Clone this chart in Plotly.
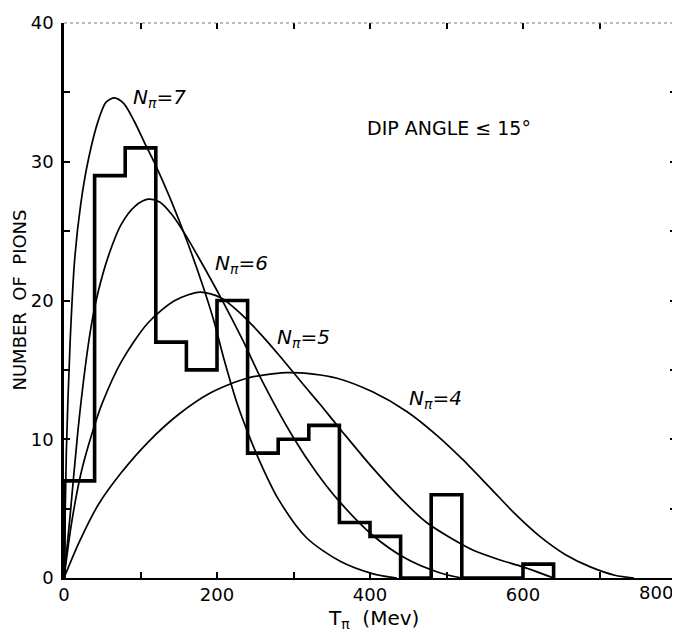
import plotly.graph_objects as go

# Histogram (40 MeV bins)
bin_left = [0, 40, 80, 120, 160, 200, 240, 280, 320, 360, 400, 440, 480, 520, 560, 600]
counts   = [7, 29, 31, 17, 15, 20, 9, 10, 11, 4, 3, 0, 6, 0, 0, 1]
bin_width = 40

# Theoretical curves (T in MeV, number of pions)
t7 = [0, 3, 8, 14, 22, 32, 45, 55, 66, 78, 92, 105, 121, 140, 160, 180, 195, 210, 225, 243, 260, 280, 317, 361, 404, 435]
n7 = [0, 9, 17, 23, 27, 30.2, 33, 34.3, 34.6, 34.2, 32.9, 31.4, 29.6, 27.2, 24.4, 21.3, 18.7, 15.6, 12.8, 10.1, 7.9, 5.7, 2.9, 1.2, 0.3, 0]

t6 = [0, 8, 18, 28, 36, 45, 58, 75, 93, 110, 125, 141, 158, 178, 206, 234, 260, 299, 330, 357, 403, 447, 490, 520]
n6 = [0, 4.5, 10.5, 15.3, 18.3, 20.7, 23.2, 25.5, 26.8, 27.3, 27.1, 26.2, 24.8, 22.9, 20.1, 17.1, 14.1, 10.2, 7.6, 5.7, 3.1, 1.4, 0.4, 0]

t5 = [0, 10, 22, 36, 50, 75, 110, 145, 178, 205, 234, 260, 282, 312, 335, 363, 404, 448, 474, 505, 535, 570, 600, 640]
n5 = [0, 4.0, 7.5, 10.3, 12.6, 15.6, 18.4, 20.0, 20.6, 20.2, 18.9, 17.4, 16.0, 14.0, 12.5, 10.6, 7.9, 5.3, 4.0, 2.9, 2.0, 1.3, 0.8, 0]

t4 = [0, 20, 45, 75, 110, 150, 190, 239, 290, 326, 357, 404, 448, 487, 520, 557, 590, 622, 655, 688, 720, 745]
n4 = [0, 2.6, 5.3, 7.6, 9.8, 11.8, 13.3, 14.4, 14.8, 14.7, 14.4, 13.4, 12.0, 10.3, 8.6, 6.5, 4.6, 3.0, 1.7, 0.8, 0.2, 0]

curve_labels = ["N<sub>π</sub>=7", "N<sub>π</sub>=6", "N<sub>π</sub>=5", "N<sub>π</sub>=4"]
label_pos_t = [87, 195, 276, 448]
label_pos_n = [34.6, 22.6, 17.3, 12.9]

x_tick_vals = [0, 100, 200, 300, 400, 500, 600, 700, 800]
x_tick_text = ["0", "", "200", "", "400", "", "600", "", ""]
y_tick_vals = [0, 5, 10, 15, 20, 25, 30, 35, 40]
y_tick_text = ["0", "", "10", "", "20", "", "30", "", "40"]

FONT = "DejaVu Sans"
TICK_SIZE = 18
TEXT_SIZE = 20

fig = go.Figure()

for t, n in [(t7, n7), (t6, n6), (t5, n5), (t4, n4)]:
    fig.add_trace(go.Scatter(x=t, y=n, mode="lines",
                             line=dict(color="black", width=1.7, shape="spline", smoothing=0.8),
                             showlegend=False, hoverinfo="skip"))

hx = [bin_left[0]] + bin_left + [bin_left[-1] + bin_width]
hy = [0] + counts + [0]
fig.add_trace(go.Scatter(x=hx, y=hy, mode="lines",
                         line=dict(color="black", width=3.6, shape="hv"),
                         showlegend=False, hoverinfo="skip"))

# dummy trace so the mirrored axes are drawn
fig.add_trace(go.Scatter(x=[0], y=[0], xaxis="x2", yaxis="y2", mode="markers",
                         marker=dict(opacity=0), showlegend=False, hoverinfo="skip"))

for txt, tx, ty in zip(curve_labels, label_pos_t, label_pos_n):
    fig.add_annotation(x=tx, y=ty, text="<i>" + txt + "</i>", showarrow=False,
                       xanchor="left", yanchor="middle",
                       font=dict(family=FONT, size=TEXT_SIZE, color="black"))

fig.add_annotation(x=393, y=32.4, text="DIP ANGLE ≤ 15°", showarrow=False,
                   xanchor="left", yanchor="middle",
                   font=dict(family=FONT, size=19, color="black"))

fig.add_annotation(xref="paper", yref="paper", x=-0.0735, y=0.5,
                   text="NUMBER  OF  PIONS", textangle=-90, showarrow=False,
                   xanchor="center", yanchor="middle",
                   font=dict(family=FONT, size=18, color="black"))

fig.add_annotation(xref="paper", yref="paper", x=0.5065, y=-0.074,
                   text="T<sub>π</sub>  (Mev)", showarrow=False,
                   xanchor="center", yanchor="middle",
                   font=dict(family=FONT, size=TEXT_SIZE, color="black"))

# last x tick label, kept inside the figure like in the reference
fig.add_annotation(xref="paper", yref="paper", x=0.999, y=-0.026,
                   text="800", showarrow=False, xanchor="right", yanchor="middle",
                   font=dict(family=FONT, size=TICK_SIZE, color="black"))

# faint dotted top border
fig.add_shape(type="line", xref="paper", yref="paper", x0=0, x1=1, y0=1, y1=1,
              line=dict(color="#777777", width=1, dash="dot"))

axis_common = dict(showgrid=False, zeroline=False, ticks="inside", ticklen=6,
                   tickwidth=1.5, tickcolor="black", ticklabeloverflow="allow",
                   tickfont=dict(family=FONT, size=TICK_SIZE, color="black"))

fig.update_layout(
    width=672, height=627,
    margin=dict(l=56, r=4, t=10, b=57),
    paper_bgcolor="white", plot_bgcolor="white",
    xaxis=dict(range=[0, 800], tickmode="array", tickvals=x_tick_vals, ticktext=x_tick_text,
               showline=True, linecolor="black", linewidth=1.5, **axis_common),
    yaxis=dict(range=[0, 40], tickmode="array", tickvals=y_tick_vals, ticktext=y_tick_text,
               showline=True, linecolor="black", linewidth=2.5, ticklabelstandoff=4,
               **axis_common),
    xaxis2=dict(range=[0, 800], overlaying="x", side="top", anchor="y",
                tickmode="array", tickvals=x_tick_vals[1:-1], showticklabels=False,
                showline=False, **axis_common),
    yaxis2=dict(range=[0, 40], overlaying="y", side="right", anchor="x",
                tickmode="array", tickvals=y_tick_vals[1:-1], showticklabels=False,
                showline=True, linecolor="black", linewidth=2, **axis_common),
)

fig.write_html("out.html")
